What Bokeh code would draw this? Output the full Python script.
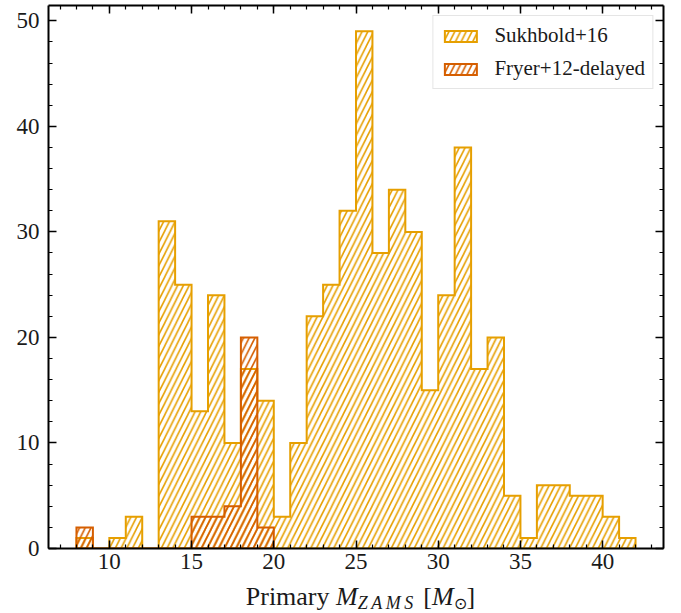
import numpy as np
from bokeh.plotting import figure
from bokeh.models import (Range1d, LinearAxis, SingleIntervalTicker, Legend,
                          LegendItem, Div, CustomJSTickFormatter)
from bokeh.layouts import column
from bokeh.embed import file_html
from bokeh.resources import INLINE

# ---- data ----
bin_edges = [8, 9, 10, 11, 12, 13, 14, 15, 16, 17, 18, 19, 20, 21, 22, 23, 24,
             25, 26, 27, 28, 29, 30, 31, 32, 33, 34, 35, 36, 37, 38, 39, 40, 41, 42]
sukhbold_counts = [1, 0, 1, 3, 0, 31, 25, 13, 24, 10, 17, 14, 3, 10, 22, 25, 32,
                   49, 28, 34, 30, 15, 24, 38, 17, 20, 5, 1, 6, 6, 5, 5, 3, 1]
fryer_edges = [8, 9, 10, 11, 12, 13, 14, 15, 16, 17, 18, 19, 20]
fryer_counts = [2, 0, 0, 0, 0, 0, 0, 3, 3, 4, 20, 2]
series_names = ["Sukhbold+16", "Fryer+12-delayed"]
series_colors = ["#E69F00", "#D55E00"]
x_ticks_interval = 5
y_ticks_interval = 10

FONT = "Liberation Serif"


def step_outline(edges, counts):
    e = np.asarray(edges, dtype=float)
    c = np.asarray(counts, dtype=float)
    xs = np.repeat(e, 2)
    ys = np.concatenate([[0.0], np.repeat(c, 2), [0.0]])
    return xs, ys


xmin, xmax = bin_edges[0], bin_edges[-1]
xpad = 0.05 * (xmax - xmin)
ymax = max(sukhbold_counts) * 1.05

p = figure(width=681, height=580,
           x_range=Range1d(xmin - xpad, xmax + xpad),
           y_range=Range1d(0, ymax),
           output_backend="svg", toolbar_location=None,
           min_border_left=48, min_border_right=18,
           min_border_top=5, min_border_bottom=32)
p.grid.visible = False
p.outline_line_color = None
p.background_fill_color = "white"
p.border_fill_color = "white"

xax = p.below[0]
yax = p.left[0]

renderers = []
for edges, counts, color in [(bin_edges, sukhbold_counts, series_colors[0]),
                             (fryer_edges, fryer_counts, series_colors[1])]:
    xs, ys = step_outline(edges, counts)
    r = p.patch(xs, ys, fill_color=None, line_color=color, line_width=2,
                line_join="miter",
                hatch_pattern="/", hatch_color=color, hatch_scale=11.5,
                hatch_weight=1.6)
    renderers.append(r)

xticker = SingleIntervalTicker(interval=x_ticks_interval, num_minor_ticks=5)
yticker = SingleIntervalTicker(interval=y_ticks_interval, num_minor_ticks=5)

top = LinearAxis(ticker=xticker, formatter=CustomJSTickFormatter(code="return ''"))
right = LinearAxis(ticker=yticker, formatter=CustomJSTickFormatter(code="return ''"))
p.add_layout(top, "above")
p.add_layout(right, "right")

xax.ticker = xticker
yax.ticker = yticker

for ax in [xax, yax, top, right]:
    ax.axis_line_width = 2
    ax.axis_line_color = "black"
    ax.major_tick_in = 8
    ax.major_tick_out = 0
    ax.minor_tick_in = 4
    ax.minor_tick_out = 0
    ax.major_tick_line_width = 1.5
    ax.minor_tick_line_width = 1.2
    ax.major_tick_line_color = "black"
    ax.minor_tick_line_color = "black"
    ax.major_label_text_font = FONT
    ax.major_label_text_color = "#1a1a1a"

for ax in [xax, yax]:
    ax.major_label_text_font_size = "23px"
    ax.axis_label = None
xax.major_label_standoff = 5
yax.major_label_standoff = 9

for ax in [top, right]:
    ax.major_label_text_font_size = "1px"
    ax.major_label_standoff = 0

legend = Legend(items=[LegendItem(label=series_names[i], renderers=[renderers[i]])
                       for i in range(2)],
                location="top_right")
legend.label_text_font = FONT
legend.label_text_font_size = "21px"
legend.label_text_color = "#1a1a1a"
legend.glyph_width = 40
legend.glyph_height = 14
legend.label_standoff = 14
legend.label_height = 20
legend.spacing = 8
legend.padding = 7
legend.margin = 10
legend.border_line_color = "#cccccc"
legend.border_line_width = 1.5
legend.background_fill_alpha = 0.8
p.add_layout(legend)

# ---- x axis label: "Primary M_ZAMS [M_sun]" as rich HTML text ----
xlabel_html = (
    '<div style="width:615px; margin-left:48px; text-align:center; '
    'font-family:\'Liberation Serif\'; font-size:26px; line-height:24px; '
    'color:#1a1a1a; white-space:nowrap;">'
    'Primary <i>M</i><sub style="font-size:18px; line-height:0; '
    'vertical-align:-4px; letter-spacing:3.5px;"><i>ZAMS</i></sub> '
    '[<i>M</i><sub style="font-size:16px; line-height:0; '
    'vertical-align:-4px;">\u2299</sub>]</div>'
)
xlabel = Div(text=xlabel_html, width=681, height=33)

layout = column(p, xlabel, spacing=0)

open("out.html", "w").write(file_html(layout, INLINE))
